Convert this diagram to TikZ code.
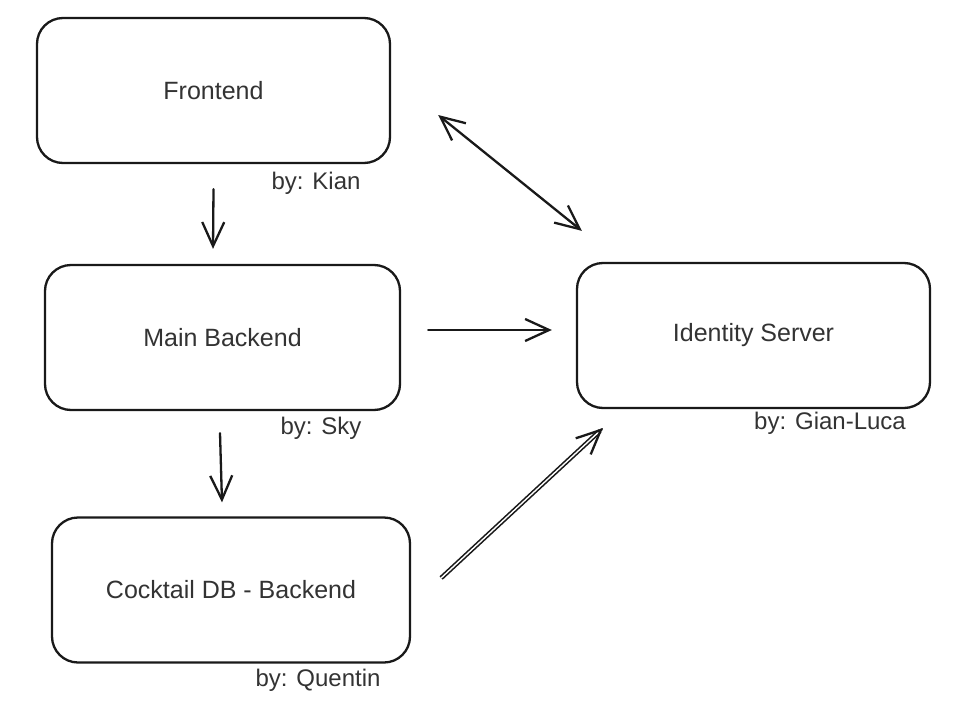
\documentclass[tikz,border=0pt]{standalone}
\usepackage{fontspec}
\setmainfont{Liberation Sans}
\usetikzlibrary{arrows.meta}
\begin{document}
\begin{tikzpicture}[x=1pt,y=-1pt,
  box/.style={draw=black!90, line width=2.3pt, rounded corners=26pt, minimum width=#1, minimum height=145pt, inner sep=0pt, font=\fontsize{25}{29}\selectfont, text=black!80},
  box/.default=354pt,
  lbl/.style={font=\fontsize{24}{28}\selectfont, text=black!80, inner sep=0pt},
  arr/.style={draw=black!90, line width=2.3pt, line cap=round, -{Straight Barb[length=24pt,width=22pt,line width=2.3pt]}},
  darr/.style={draw=black!90, line width=2.3pt, line cap=round, {Straight Barb[length=24pt,width=22pt,line width=2.3pt]}-{Straight Barb[length=24pt,width=22pt,line width=2.3pt]}}
]
\useasboundingbox[fill=white] (0,0) rectangle (958,725);
\node[box=353pt] (fe) at (213.5,90.5) {Frontend};
\node[box=355pt] (mb) at (222.5,337.5) {Main Backend};
\node[box=358pt] (cd) at (231,590) {Cocktail DB - Backend};
\node[box=353pt] (id) at (753.5,335.5) {Identity Server};
\node[lbl] (l1) at (316,183) {by: Kian};
\node[lbl] (l2) at (321,428) {by: Sky};
\node[lbl] (l3) at (318,680) {by: Quentin};
\node[lbl] (l4) at (830,423) {by: Gian-Luca};
\draw[arr] ([yshift=-25pt]fe.south) -- ([xshift=-9.5pt,yshift=15pt]mb.north);
\draw[arr] ([xshift=-2.5pt,yshift=-22pt]mb.south) -- ([xshift=-9pt,yshift=14pt]cd.north);
\draw[arr] ([xshift=27pt,yshift=7.5pt]mb.east) -- ([xshift=-24pt,yshift=5.5pt]id.west);
\draw[darr] ([xshift=47pt,yshift=-24.5pt]fe.east) -- ([xshift=6pt,yshift=31pt]id.north west);
\draw[draw=black!90, line width=1.6pt, double distance=1.4pt, shorten >=4pt] ([xshift=30pt,yshift=12pt]cd.east) -- ([xshift=27pt,yshift=-19pt]id.south west);
\draw[arr, shorten <=219pt] ([xshift=30pt,yshift=12pt]cd.east) -- ([xshift=27pt,yshift=-19pt]id.south west);
\end{tikzpicture}
\end{document}
